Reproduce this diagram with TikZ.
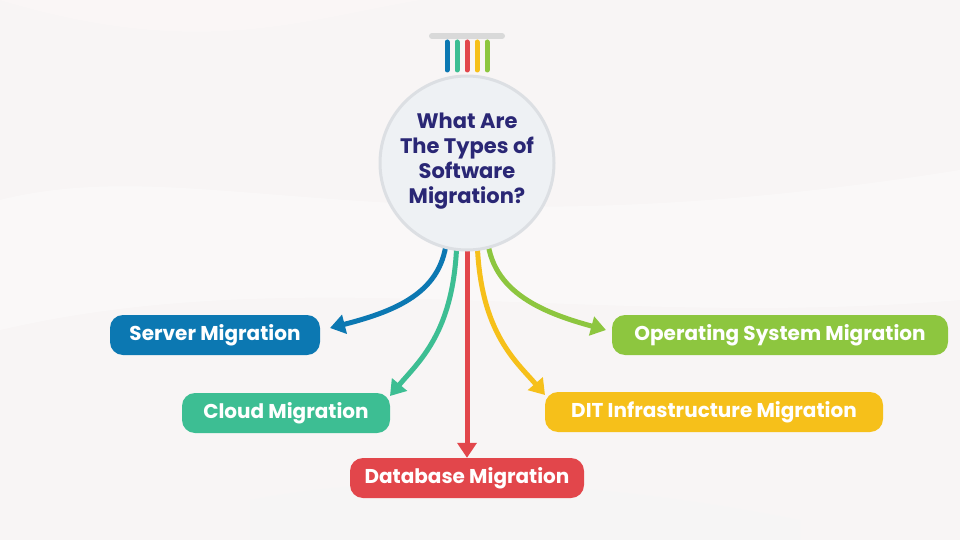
\documentclass[tikz,border=0pt]{standalone}
\usepackage{fontspec}
\setmainfont{Poppins}
\usetikzlibrary{arrows.meta}
\definecolor{bgc}{HTML}{F8F5F5}
\definecolor{cblue}{HTML}{0C78B2}
\definecolor{cteal}{HTML}{3DBE93}
\definecolor{cred}{HTML}{E2464B}
\definecolor{cyel}{HTML}{F6C01A}
\definecolor{clime}{HTML}{8DC63F}
\definecolor{navy}{HTML}{2A2775}
\definecolor{circfill}{HTML}{EEF1F4}
\definecolor{circedge}{HTML}{DCDFE3}
\tikzset{
  box/.style={rounded corners=13pt, minimum height=40pt, text=white, font=\fontsize{20}{24}\selectfont\bfseries, inner xsep=10pt, anchor=center},
  conn/.style={line width=5pt, -{Triangle[width=19pt,length=15pt]}},
  strip/.style={line width=5pt, line cap=round},
}
\begin{document}
\begin{tikzpicture}[x=1pt,y=-1pt]
\useasboundingbox (0,0) rectangle (960,540);
\fill[bgc] (0,0) rectangle (960,540);
% faint background swirls
\fill[white, opacity=0.35] (0,200) .. controls (200,150) and (400,260) .. (960,170) -- (960,300) .. controls (600,330) and (300,260) .. (0,330) -- cycle;
\fill[gray!8, opacity=0.4] (250,500) .. controls (400,470) and (600,480) .. (800,520) -- (800,540) -- (250,540) -- cycle;
\fill[pink!10, opacity=0.4] (0,0) .. controls (200,60) and (300,20) .. (420,0) -- cycle;

% top bar and strips
\draw[line width=6pt, line cap=round, gray!30] (432,36) -- (502,36);
\draw[strip, cblue] (447,42) -- (447,70);
\draw[strip, cteal] (457,42) -- (457,70);
\draw[strip, cred] (467,42) -- (467,70);
\draw[strip, cyel] (477,42) -- (477,70);
\draw[strip, clime] (487,42) -- (487,70);

% coordinates for arrow starts
\coordinate (sb) at (447,230);
\coordinate (st) at (457,230);
\coordinate (sr) at (467,230);
\coordinate (sy) at (477,230);
\coordinate (sl) at (487,230);

% boxes
\node[box, fill=cblue, minimum width=210pt] (server) at (215,335) {Server Migration};
\node[box, fill=cteal, minimum width=208pt] (cloud) at (286,413) {Cloud Migration};
\node[box, fill=cred, minimum width=234pt] (db) at (467,478) {Database Migration};
\node[box, fill=cyel, minimum width=338pt] (dit) at (714,412) {DIT Infrastructure Migration};
\node[box, fill=clime, minimum width=336pt] (os) at (780,335) {Operating System Migration};

\coordinate (tb) at (330,328);
\coordinate (tt) at (390,396);
\coordinate (ty) at (545,395);
\coordinate (tl) at (606,330);

% arrows
\draw[conn, cblue] (sb) .. controls (447,290) and (400,310) .. (tb);
\draw[conn, cteal] (st) .. controls (457,330) and (420,360) .. (tt);
\draw[conn, cred] (sr) -- (db.north);
\draw[conn, cyel] (sy) .. controls (477,330) and (515,360) .. (ty);
\draw[conn, clime] (sl) .. controls (487,290) and (540,312) .. (tl);

% central circle
\node[circle, fill=circfill, draw=circedge, line width=3pt, minimum size=174pt, inner sep=0pt] (hub) at (467,163) {};
\node[text=navy, align=center, font=\fontsize{21}{25}\selectfont\bfseries] (title) at (467,161) {What Are\\The Types of\\Software\\Migration?};
\end{tikzpicture}
\end{document}
